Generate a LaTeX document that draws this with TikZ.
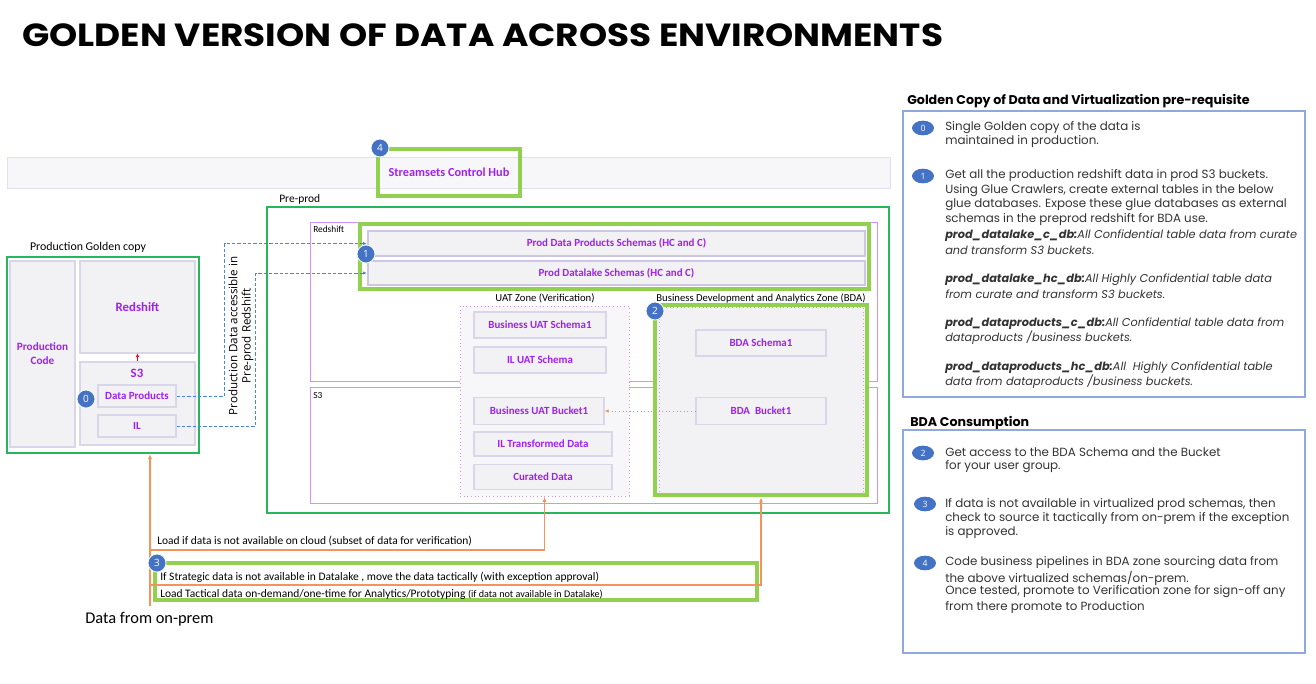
\documentclass[tikz,border=0pt]{standalone}
\usepackage{fontspec}
\setmainfont{Carlito}
\newfontfamily\osans{Open Sans}
\newfontfamily\pops{Poppins}
\usepackage{xcolor}
\usepackage{tikz}
\usetikzlibrary{positioning,calc,shapes,arrows.meta}

\definecolor{ptext}{RGB}{160,32,240}
\definecolor{vline}{RGB}{212,145,250}
\definecolor{gline}{RGB}{40,182,92}
\definecolor{lgreen}{RGB}{146,208,80}
\definecolor{oline}{RGB}{245,148,88}
\definecolor{bdash}{RGB}{70,130,240}
\definecolor{bfill}{RGB}{242,242,244}
\definecolor{bline}{RGB}{216,214,232}
\definecolor{schline}{RGB}{205,198,228}
\definecolor{barfill}{RGB}{247,247,250}
\definecolor{barline}{RGB}{226,223,245}
\definecolor{badgeblue}{RGB}{68,114,196}
\definecolor{rline}{RGB}{142,169,219}

\newcommand{\gdb}[2]{{\fontsize{8.5}{10}\selectfont\textbf{\textit{#1}}\textit{#2}}}
\newcommand{\gcont}[1]{{\fontsize{8.5}{10}\selectfont\textit{#1}}}

\begin{document}
\begin{tikzpicture}[x=0.75pt,y=-0.75pt,
  wd/.style={minimum width=#1*0.75pt},
  ht/.style={minimum height=#1*0.75pt},
  gbox/.style={draw=bline, line width=0.8pt, fill=bfill, inner sep=0pt, text=ptext, align=center,
    font=\fontsize{8.2}{9.5}\selectfont\bfseries},
  schema/.style={gbox, draw=schline, line width=1.5pt},
  zone/.style={draw=vline, line width=0.75pt, inner sep=0pt},
  env/.style={draw=gline, line width=1.1pt, inner sep=0pt},
  hilite/.style={draw=lgreen, line width=3pt, inner sep=0pt},
  badge/.style={circle, fill=badgeblue, draw=white, line width=0.6pt, text=white, inner sep=0pt,
    minimum size=13.5pt, font=\osans\fontsize{7.5}{8}\selectfont},
  pill/.style={ellipse, fill=badgeblue, text=white, inner sep=0pt, minimum width=16.5pt,
    minimum height=11pt, font=\osans\fontsize{6.5}{7}\selectfont},
  note/.style={anchor=west, inner sep=0pt, font=\fontsize{8.6}{10}\selectfont},
  rtext/.style={anchor=west, inner sep=0pt, font=\pops\fontsize{8.9}{10}\selectfont, text=black!80},
  rhead/.style={anchor=west, inner sep=0pt, font=\pops\bfseries\fontsize{9.5}{11}\selectfont},
  bluedash/.style={draw=bdash, line width=0.6pt, dash pattern=on 2.5pt off 1.5pt,
    -{Latex[length=3pt,width=2.5pt]}},
  feed/.style={draw=oline, line width=0.9pt, -{Latex[length=4pt,width=3pt]}},
]
  \useasboundingbox (0,0) rectangle (1316,683);

  % title
  \node[anchor=west, inner sep=0pt, xscale=1.12, font=\pops\bfseries\fontsize{24}{27}\selectfont] (title) at (22,35)
    {GOLDEN VERSION OF DATA ACROSS ENVIRONMENTS};

  % control hub bar
  \node[draw=barline, fill=barfill, inner sep=0pt, wd=883, ht=31] (bar) at (448.5,172.5) {};
  \node[hilite, wd=142, ht=47, text=ptext, font=\fontsize{9.2}{10}\selectfont\bfseries] (hub) at (449,172.5)
    {Streamsets Control Hub};
  \node[badge] (b4) at (380,148) {4};

  % production golden copy
  \node[font=\fontsize{8.9}{10}\selectfont] (prodlbl) at (88,247) {Production Golden copy};
  \node[env, wd=192, ht=196] (prod) at (103,355) {};
  \node[gbox, wd=65, ht=186, font=\fontsize{8.4}{10.5}\selectfont\bfseries] (prodcode) at (42.5,354) {Production\\Code};
  \node[gbox, wd=115, ht=92, font=\fontsize{9.6}{11}\selectfont\bfseries] (prodrs) at (137.5,307) {Redshift};
  \node[gbox, wd=115, ht=83] (prods3) at (137.5,403.5) {};
  \node[text=ptext, font=\fontsize{9.6}{11}\selectfont\bfseries] (prods3lbl) at (137,373) {S3};
  \node[gbox, wd=78, ht=22] (dataprod) at (137,396) {Data Products};
  \node[gbox, wd=78, ht=22] (il) at (137,426) {IL};
  \node[badge] (b0) at (86,399) {0};
  \draw[draw=red, line width=0.3pt, -{Latex[length=2.5pt,width=2.5pt]}] (prods3.north) -- (prodrs.south);

  % pre-prod
  \node[anchor=west, font=\fontsize{8.6}{10}\selectfont, inner sep=0pt] (prelbl) at (279,199) {Pre-prod};
  \node[env, wd=622, ht=306] (preprod) at (578,360) {};
  \node[zone, wd=567, ht=159] (rs) at (593.5,301.5) {};
  \node[anchor=west, inner sep=0pt, font=\fontsize{7}{8}\selectfont] (rslbl) at (313,229) {Redshift};
  \node[zone, wd=567, ht=116] (s3) at (593.5,445) {};
  \node[anchor=west, inner sep=0pt, font=\fontsize{7}{8}\selectfont] (s3lbl) at (313,395) {S3};

  % prod schemas
  \node[hilite, wd=509, ht=65] (schemas) at (614.5,256.5) {};
  \node[schema, wd=497, ht=25] (dpschema) at (616.5,243.5) {Prod Data Products Schemas (HC and C)};
  \node[schema, wd=497, ht=24] (dlschema) at (616.5,273) {Prod Datalake Schemas (HC and C)};
  \node[badge] (b1) at (366,254) {1};

  % uat zone
  \node[note, anchor=center, font=\fontsize{8}{10}\selectfont] (uatlbl) at (545,298) {UAT Zone (Verification)};
  \node[zone, dotted, fill=barfill, wd=169, ht=190] (uatzone) at (544.5,401) {};
  \node[gbox, wd=132, ht=26] (uatschema) at (540,325) {Business UAT Schema1};
  \node[gbox, wd=132, ht=26] (iluat) at (540,360) {IL UAT Schema};
  \node[gbox, wd=130, ht=27] (uatbucket) at (539,411) {Business UAT Bucket1};
  \node[gbox, wd=138, ht=24] (iltrans) at (543,444) {IL Transformed Data};
  \node[gbox, wd=138, ht=25] (curated) at (543,477) {Curated Data};

  % bda zone
  \node[note, anchor=center, font=\fontsize{8}{10}\selectfont] (bdalbl) at (761,298) {Business Development and Analytics Zone (BDA)};
  \node[hilite, fill=bfill, wd=212, ht=190] (bdazone) at (761,400) {};
  \node[zone, dotted, wd=204, ht=186] (bdainner) at (761.5,400.5) {};
  \node[gbox, wd=130, ht=26] (bdaschema) at (761,343) {BDA Schema1};
  \node[gbox, wd=130, ht=27] (bdabucket) at (761,411) {BDA\ \ Bucket1};
  \node[badge] (b2) at (655,311) {2};
  \draw[draw=oline, line width=0.7pt, dotted, -{Latex[length=3pt,width=2.5pt]}] (bdabucket.west) -- (uatbucket.east);

  % prod to pre-prod
  \draw[bluedash] (dataprod.east) -- ++(48,0) |- (dpschema.west);
  \draw[bluedash] (il.east) -- ++(79,0) |- (dlschema.west);
  \node[rotate=90, align=center, inner sep=0pt, font=\osans\fontsize{8.7}{9.8}\selectfont] (access) at (241,336)
    {Production Data accessible in\\Pre-prod Redshift};

  % on-prem feeds
  \coordinate (onprem) at (150,606);
  \coordinate (cloud) at (150,550);
  \coordinate (tact) at (150,585);
  \node[note] (cloudtxt) at (157,541) {Load if data is not available on cloud (subset of data for verification)};
  \node[hilite, wd=602, ht=37] (tactbox) at (456,581.5) {};
  \node[note] (tact1) at (160,577) {If Strategic data is not available in Datalake , move the data tactically (with exception approval)};
  \node[note] (tact2) at (160,594) {Load Tactical data on-demand/one-time for Analytics/Prototyping {\fontsize{7.6}{8}\selectfont (if data not available in Datalake)}};
  \draw[feed] (onprem) -- (onprem |- prod.south);
  \draw[feed] (cloud) -| (uatzone.south);
  \draw[feed] (tact) -| (bdazone.south);
  \node[badge] (b3) at (157,563) {3};
  \node[anchor=west, inner sep=0pt, font=\fontsize{12.3}{14}\selectfont] (onpremlbl) at (85,619) {Data from on-prem};

  % golden copy notes
  \node[rhead] (gchead) at (907,101) {Golden Copy of Data and Virtualization pre-requisite};
  \node[draw=rline, line width=0.8pt, inner sep=0pt, wd=402, ht=286] (gcbox) at (1104,254) {};
  \node[pill] (p0) at (923,128) {0};
  \node[pill] (p1) at (923,176) {1};
  \foreach \y/\txt [count=\i] in {
      128/{Single Golden copy of the data is},
      142/{maintained in production.},
      176/{Get all the production redshift data in prod S3 buckets.},
      191/{Using Glue Crawlers, create external tables in the below},
      205/{glue databases. Expose these glue databases as external},
      220/{schemas in the preprod redshift for BDA use.},
      236/{\gdb{prod\_datalake\_c\_db:}{All Confidential table data from curate}},
      250/{\gcont{and transform S3 buckets.}},
      280/{\gdb{prod\_datalake\_hc\_db:}{All Highly Confidential table data}},
      294/{\gcont{from curate and transform S3 buckets.}},
      324/{\gdb{prod\_dataproducts\_c\_db:}{All Confidential table data from}},
      338/{\gcont{dataproducts /business buckets.}},
      368/{\gdb{prod\_dataproducts\_hc\_db:}{All\ \ Highly Confidential table}},
      382/{\gcont{data from dataproducts /business buckets.}}} {
    \node[rtext] (gc\i) at (945,\y) {\txt};
  }

  % bda consumption notes
  \node[rhead] (bdahead) at (910,423) {BDA Consumption};
  \node[draw=rline, line width=0.8pt, inner sep=0pt, wd=402, ht=223] (bdabox) at (1104,541.5) {};
  \node[pill] (p2) at (923,453) {2};
  \node[pill] (p3) at (925,504) {3};
  \node[pill] (p4) at (925,563) {4};
  \foreach \y/\txt [count=\i] in {
      452/{Get access to the BDA Schema and the Bucket},
      467/{for your user group.},
      504/{If data is not available in virtualized prod schemas, then},
      518/{check to source it tactically from on-prem if the exception},
      533/{is approved.},
      563/{Code business pipelines in BDA zone sourcing data from},
      578/{the above virtualized schemas/on-prem.},
      592/{Once tested, promote to Verification zone for sign-off any},
      607/{from there promote to Production}} {
    \node[rtext] (bc\i) at (945,\y) {\txt};
  }

\end{tikzpicture}
\end{document}
